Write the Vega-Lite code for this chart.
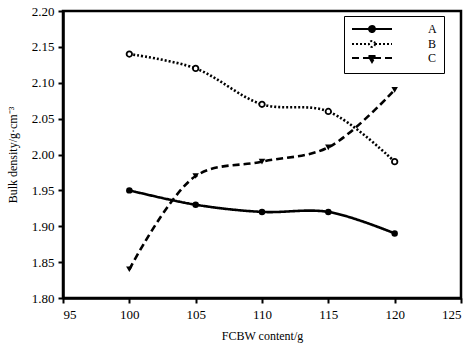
{
  "$schema": "https://vega.github.io/schema/vega-lite/v6.json",
  "width": 398,
  "height": 287,
  "autosize": "none",
  "padding": {"left": 63, "top": 11, "right": 13, "bottom": 52},
  "background": "white",
  "config": {
    "font": "Liberation Serif",
    "view": {"stroke": "black", "strokeWidth": 2.5},
    "axis": {
      "grid": false,
      "domainColor": "black",
      "domainWidth": 2.5,
      "tickColor": "black",
      "tickWidth": 2,
      "tickSize": 5,
      "labelFont": "Liberation Serif",
      "labelFontSize": 13,
      "labelColor": "black",
      "titleFont": "Liberation Serif",
      "titleFontSize": 12,
      "titleFontWeight": "normal",
      "titleColor": "black"
    }
  },
  "data": {
    "values": [
      {"content": 100, "density": 1.95, "series": "A"},
      {"content": 105, "density": 1.93, "series": "A"},
      {"content": 110, "density": 1.92, "series": "A"},
      {"content": 115, "density": 1.92, "series": "A"},
      {"content": 120, "density": 1.89, "series": "A"},
      {"content": 100, "density": 2.14, "series": "B"},
      {"content": 105, "density": 2.12, "series": "B"},
      {"content": 110, "density": 2.07, "series": "B"},
      {"content": 115, "density": 2.06, "series": "B"},
      {"content": 120, "density": 1.99, "series": "B"},
      {"content": 100, "density": 1.84, "series": "C"},
      {"content": 105, "density": 1.97, "series": "C"},
      {"content": 110, "density": 1.99, "series": "C"},
      {"content": 115, "density": 2.01, "series": "C"},
      {"content": 120, "density": 2.09, "series": "C"}
    ]
  },
  "encoding": {
    "x": {
      "field": "content", "type": "quantitative",
      "scale": {"domain": [95, 125], "nice": false, "zero": false},
      "axis": {"values": [95, 100, 105, 110, 115, 120, 125], "title": "FCBW content/g", "titlePadding": 9, "labelPadding": 5}
    },
    "y": {
      "field": "density", "type": "quantitative",
      "scale": {"domain": [1.8, 2.2], "nice": false, "zero": false},
      "axis": {"values": [1.8, 1.85, 1.9, 1.95, 2.0, 2.05, 2.1, 2.15, 2.2], "format": ".2f", "title": "Bulk density/g·cm⁻³", "titlePadding": 12, "labelPadding": 4}
    }
  },
  "layer": [
    {
      "mark": {"type": "line", "interpolate": "catmull-rom", "strokeWidth": 2.6, "color": "black"},
      "encoding": {
        "strokeDash": {
          "field": "series", "type": "nominal",
          "scale": {"domain": ["A", "B", "C"], "range": [[1, 0], [2, 2], [7, 4]]}
        }
      }
    },
    {
      "mark": {"type": "point", "filled": true, "size": 100, "opacity": 0, "stroke": "black", "strokeWidth": 2},
      "encoding": {
        "strokeDash": {
          "field": "series", "type": "nominal",
          "legend": {
            "title": null,
            "orient": "none",
            "legendX": 281,
            "legendY": 5,
            "strokeColor": "black",
            "fillColor": "white",
            "padding": 7,
            "labelFont": "Liberation Serif",
            "labelFontSize": 12,
            "labelColor": "black",
            "labelOffset": 65,
            "rowPadding": 1,
            "symbolSize": 100,
            "symbolOpacity": 1,
            "symbolStrokeColor": "black",
            "symbolStrokeWidth": 2,
            "encode": {"legend": {"update": {"strokeWidth": {"value": 1.5}}}}
          }
        },
        "shape": {
          "field": "series", "type": "nominal",
          "scale": {"domain": ["A", "B", "C"], "range": [
            "M-1,0H7M3.6,0A0.6,0.6,0,1,1,2.4,0A0.6,0.6,0,1,1,3.6,0Z",
            "M-1,0H2.4M3.6,0H7M3.6,0A0.6,0.6,0,1,1,2.4,0A0.6,0.6,0,1,1,3.6,0Z",
            "M-1,0H7M2.3,-0.4L3.7,-0.4L3,0.8Z"
          ]}
        },
        "fill": {
          "field": "series", "type": "nominal",
          "scale": {"domain": ["A", "B", "C"], "range": ["black", "white", "black"]}
        }
      }
    },
    {
      "transform": [{"filter": "datum.series === 'A'"}],
      "mark": {"type": "point", "shape": "circle", "filled": true, "size": 42, "opacity": 1, "color": "black"}
    },
    {
      "transform": [{"filter": "datum.series === 'B'"}],
      "mark": {"type": "point", "shape": "circle", "filled": false, "fill": "white", "size": 30, "strokeWidth": 1.8, "opacity": 1, "stroke": "black"}
    },
    {
      "transform": [{"filter": "datum.series === 'C'"}],
      "mark": {"type": "point", "shape": "triangle-down", "filled": true, "size": 42, "opacity": 1, "color": "black"}
    }
  ]
}
